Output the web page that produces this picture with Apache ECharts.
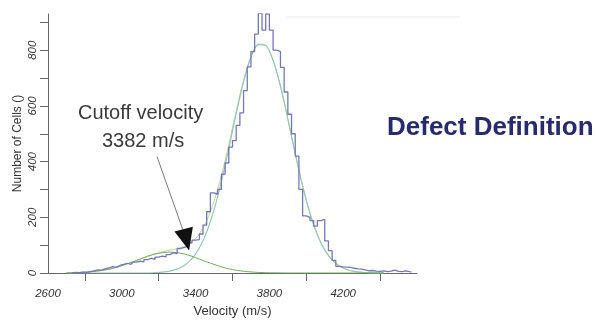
<!DOCTYPE html>
<html>
<head>
<meta charset="utf-8">
<script src="https://cdn.jsdelivr.net/npm/echarts@6/dist/echarts.min.js"></script>
<style>
  html, body { margin: 0; padding: 0; background: #fff; }
  #chart { width: 598px; height: 323px; }
</style>
</head>
<body>
<div id="chart"></div>
<script>
// histogram: cell counts per 20 m/s bin, first bin starts at 2720 m/s
const binStart = 2720;
const binWidth = 20;
const cellCounts = [
  0, 2, 1, 3, 2, 5, 8, 11, 10, 15,
  18, 23, 20, 27, 31, 35, 31, 39, 43, 40,
  48, 53, 49, 57, 61, 58, 66, 72, 70, 88,
  92, 97, 108, 118, 120, 140, 172, 220, 288, 282,
  300, 355, 395, 452, 475, 530, 575, 655, 740, 795,
  858, 932, 872, 930, 872, 800, 795, 738, 650, 570,
  500, 420, 300, 205, 200, 188, 168, 188, 193, 115,
  80, 45, 24, 22, 21, 20, 17, 15, 14, 11,
  8, 9, 7, 6, 8, 5, 7, 10, 6, 5,
  8, 5, 4
];

// fitted curves, read every 40 m/s from 2700 m/s
const fitStart = 2700;
const fitStep = 40;
const defectFit = [
  0.6, 1.2, 2.1, 3.8, 6.4, 10, 15, 22, 31, 40,
  50, 60, 68, 73, 75, 73, 68, 60, 50, 40,
  31, 22, 15, 10, 6.4, 3.8, 2.1, 1.2, 0.6, 0.3,
  0, 0, 0, 0, 0, 0, 0, 0, 0, 0,
  0, 0, 0, 0
];
const mainFit = [
  0, 0, 0, 0, 0, 0, 0, 0, 0, 0,
  0, 0, 1.2, 3, 6.6, 14, 28, 51, 90, 147,
  227, 329, 447, 572, 686, 774, 820, 817, 763, 671,
  553, 429, 312, 214, 137, 83, 47, 25, 12.5, 5.9,
  2.6, 1.1, 0.4, 0.2
];
const totalFit = [
  0.6, 1.2, 2.1, 3.8, 6.4, 10, 15, 22, 31, 40,
  50, 60, 69, 76, 82, 87, 96, 111, 140, 187,
  258, 351, 462, 582, 692, 778, 822, 818, 764, 671,
  553, 429, 312, 214, 137, 83, 47, 25, 12.5, 5.9,
  2.6, 1.1, 0.4, 0.2
];

// axis ticks and labels
const xLabelValues = [2600, 3000, 3400, 3800, 4200];
const xTickValues = [2800, 3200, 3600, 4000, 4400];
const yLabelValues = [0, 200, 400, 600, 800];
const yTickValues = [0, 100, 200, 300, 400, 500, 600, 700, 800, 900];

// cutoff arrow: [velocity, count]
const cutoffFrom = [3191, 418];
const cutoffHead = [3350, 119];
const cutoffHeadBase = [3340, 145];

const histData = cellCounts.map((c, i) => [binStart + i * binWidth + binWidth / 2, c]);
const fitV = i => fitStart + i * fitStep;

const chart = echarts.init(document.getElementById("chart"));

const labelFont = {
  fontFamily: "Liberation Sans",
  fontStyle: "italic",
  fontSize: 11.5,
  color: "#333",
  formatter: v => String(v)
};

chart.setOption({
  animation: false,
  grid: { left: 48, right: 181, top: 14, bottom: 49 },
  xAxis: {
    type: "value",
    min: 2600,
    max: 4600,
    name: "Velocity (m/s)",
    nameLocation: "middle",
    nameGap: 32,
    nameMoveOverlap: false,
    nameTextStyle: { fontFamily: "Liberation Sans", fontSize: 13, color: "#333" },
    axisLine: { lineStyle: { color: "#666" } },
    axisTick: { length: 8, customValues: xTickValues, lineStyle: { color: "#666" } },
    axisLabel: Object.assign({ margin: 15, customValues: xLabelValues }, labelFont),
    splitLine: { show: false }
  },
  yAxis: {
    type: "value",
    min: 0,
    max: 930,
    name: "Number of Cells ()",
    nameLocation: "middle",
    nameGap: 24,
    nameMoveOverlap: false,
    nameTextStyle: { fontFamily: "Liberation Sans", fontSize: 12, color: "#333" },
    axisLine: { show: true, lineStyle: { color: "#666" } },
    axisTick: { show: true, length: 8, customValues: yTickValues, lineStyle: { color: "#666" } },
    axisLabel: Object.assign({ rotate: 90, margin: 9, customValues: yLabelValues }, labelFont),
    splitLine: { show: false }
  },
  series: [
    {
      type: "line",
      data: totalFit.map((y, i) => [fitV(i), y]),
      smooth: 0.3,
      showSymbol: false,
      lineStyle: { color: "#c8cf9c", width: 1 }
    },
    {
      type: "line",
      data: mainFit.map((y, i) => [fitV(i), y]),
      smooth: 0.3,
      showSymbol: false,
      lineStyle: { color: "#94c8b6", width: 1.2 }
    },
    {
      type: "line",
      data: defectFit.map((y, i) => [fitV(i), y]),
      smooth: 0.3,
      showSymbol: false,
      lineStyle: { color: "#6fae5c", width: 1 }
    },
    {
      type: "line",
      data: histData,
      step: "middle",
      showSymbol: false,
      lineStyle: { color: "#7478b6", width: 1.3 },
      markLine: {
        silent: true,
        animation: false,
        label: { show: false },
        symbol: "none",
        data: [
          [
            { coord: cutoffFrom, lineStyle: { color: "#7a7a7a", width: 1, type: "solid" } },
            { coord: cutoffHead }
          ],
          [
            { coord: cutoffHeadBase, symbol: "none", lineStyle: { color: "#111", width: 1, type: "solid" } },
            { coord: cutoffHead, symbol: "triangle", symbolSize: [19, 22] }
          ]
        ]
      }
    }
  ],
  graphic: [
    {
      type: "text",
      left: 78,
      top: 103,
      style: { text: "Cutoff velocity", font: "20px 'Liberation Sans'", fill: "#3a3a3a" }
    },
    {
      type: "text",
      left: 102,
      top: 131,
      style: { text: "3382 m/s", font: "20px 'Liberation Sans'", fill: "#3a3a3a" }
    },
    {
      type: "text",
      left: 387,
      top: 115,
      style: { text: "Defect Definition", font: "bold 26px 'Liberation Sans'", fill: "#262a6e" }
    },
    {
      type: "line",
      shape: { x1: 287, y1: 17, x2: 460, y2: 17 },
      style: { stroke: "#ececec", lineWidth: 1 }
    }
  ]
});
</script>
</body>
</html>
